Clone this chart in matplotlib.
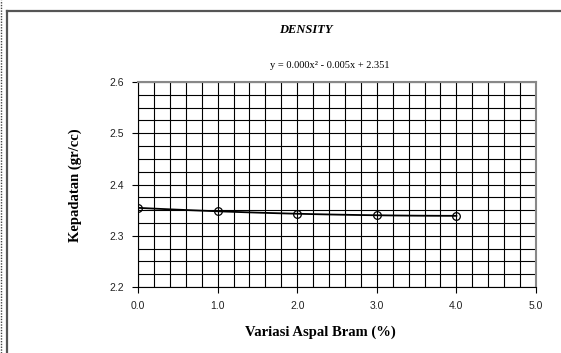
import numpy as np
import matplotlib
matplotlib.use('Agg')
import matplotlib.pyplot as plt
from matplotlib.lines import Line2D

# variasi aspal bram (%) and kepadatan (gr/cc)
kadar = [0.0, 1.0, 2.0, 3.0, 4.0]
kepadatan = [2.354, 2.349, 2.342, 2.340, 2.339]
x_ticks = [0.0, 1.0, 2.0, 3.0, 4.0, 5.0]
y_ticks = [2.2, 2.3, 2.4, 2.5, 2.6]

fig = plt.figure(figsize=(5.61, 3.53), dpi=100)
ax = fig.add_axes([138/561, 1 - 287/353, 398/561, 205/353])

# outer chart frame (left and top edges visible)
fig.add_artist(Line2D([6.5/561, 6.5/561], [0, 1 - 10.5/353], transform=fig.transFigure,
                      color='#555555', lw=1.6))
fig.add_artist(Line2D([6.5/561, 1], [1 - 10.5/353, 1 - 10.5/353], transform=fig.transFigure,
                      color='#555555', lw=1.6))
fig.add_artist(Line2D([1/561, 1/561], [0, 1], transform=fig.transFigure,
                      color='#444444', lw=1, ls=(0, (1, 1))))

# polynomial trendline (order 2)
c = np.polyfit(kadar, kepadatan, 2)
xt = np.linspace(kadar[0], kadar[-1], 100)
ax.plot(xt, np.polyval(c, xt), color='black', lw=1.3, zorder=3)
ax.plot(kadar, kepadatan, 'o', mfc='none', mec='black', ms=5.5, mew=0.9, zorder=4)

ax.set_xlim(0, 5)
ax.set_ylim(2.2, 2.6)
ax.set_xticks(x_ticks)
ax.set_xticklabels(['%.1f' % v for v in x_ticks])
ax.set_yticks(y_ticks)
ax.set_yticklabels(['%.1f' % v for v in y_ticks])
ax.set_xticks(np.arange(0, 5.01, 0.2), minor=True)
ax.set_yticks(np.arange(2.2, 2.601, 0.025), minor=True)
ax.grid(which='both', color='black', lw=0.8)
ax.tick_params(which='minor', length=0)
ax.tick_params(which='major', length=4, width=0.8, labelsize=7.5, pad=6, colors='black')
for lab in ax.get_xticklabels() + ax.get_yticklabels():
    lab.set_fontfamily('Liberation Sans')
    lab.set_color('#222222')
for s in ['top', 'right']:
    ax.spines[s].set_color('#888888')
    ax.spines[s].set_linewidth(1.5)
for s in ['left', 'bottom']:
    ax.spines[s].set_color('black')
    ax.spines[s].set_linewidth(0.8)
ax.set_axisbelow(True)

fig.text(306/561, 1 - 30/353, 'DENSITY', ha='center', va='center',
         family='Liberation Serif', weight='bold', style='italic', fontsize=9)
fig.text(330/561, 1 - 65/353, 'y = 0.000x² - 0.005x + 2.351', ha='center', va='center',
         family='Liberation Serif', fontsize=7.5)
fig.text(320/561, 1 - 332/353, 'Variasi Aspal Bram (%)', ha='center', va='center',
         family='Liberation Serif', weight='bold', fontsize=10.5)
fig.text(75/561, 1 - 185/353, 'Kepadatan (gr/cc)', ha='center', va='center', rotation=90,
         family='Liberation Serif', weight='bold', fontsize=10.5)

fig.savefig('out.png', dpi=100)
